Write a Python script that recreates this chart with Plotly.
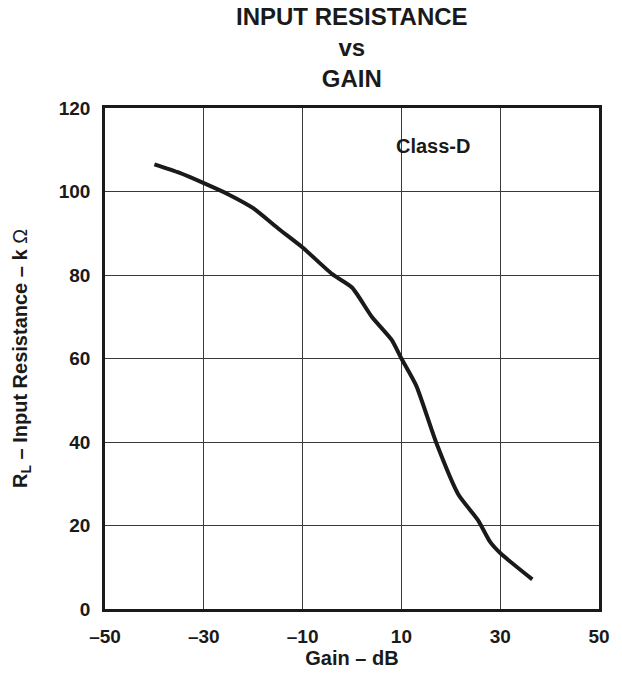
import plotly.graph_objects as go

gain_db = [-40, -35, -30, -25, -20, -15, -10, -4, 0, 4, 8, 10, 13, 17, 21.5, 25.5, 28, 30, 36.5]
input_res_k = [106.5, 104.5, 102, 99.3, 96, 91.2, 86.6, 80.2, 77, 70, 64.5, 60, 53.5, 40, 27.5, 21.3, 16, 13.4, 7.1]

x_ticks = [-50, -30, -10, 10, 30, 50]
x_ticktext = ["–50", "–30", "–10", "10", "30", "50"]
y_ticks = [0, 20, 40, 60, 80, 100, 120]

FONT = "Arial, Liberation Sans, sans-serif"
INK = "#1a1a1a"

fig = go.Figure()
fig.add_trace(go.Scatter(
    x=gain_db, y=input_res_k, mode="lines",
    line=dict(color=INK, width=4, shape="spline", smoothing=0.6),
    showlegend=False, hoverinfo="skip",
))

fig.add_annotation(x=16.3, y=111, text="<b>Class-D</b>", showarrow=False,
                   font=dict(family=FONT, size=20, color=INK),
                   xanchor="center", yanchor="middle")

# title (centered over the plot area)
fig.add_annotation(x=0.5, xref="paper", y=1, yref="paper", yshift=107,
                   text="<b>INPUT RESISTANCE<br>vs<br>GAIN</b>", showarrow=False,
                   font=dict(family=FONT, size=24, color=INK),
                   xanchor="center", yanchor="top", align="center")

fig.update_layout(
    width=622, height=677,
    margin=dict(l=105, r=12, t=108, b=62),
    paper_bgcolor="white", plot_bgcolor="white",
    font=dict(family=FONT, color=INK),
)
fig.update_xaxes(
    range=[-50, 50], tickvals=x_ticks, ticktext=[f"<b>{t}</b>" for t in x_ticktext],
    tickfont=dict(family=FONT, size=19, color=INK),
    showgrid=True, gridcolor="#3a3a3a", gridwidth=1.2,
    showline=True, linecolor=INK, linewidth=2.5, mirror=True,
    zeroline=False, ticks="", ticklabelstandoff=8,
    title=dict(text="<b>Gain – dB</b>", font=dict(family=FONT, size=20, color=INK), standoff=4),
)
fig.update_yaxes(
    range=[0, 120], tickvals=y_ticks, ticktext=[f"<b>{t}</b>" for t in y_ticks],
    tickfont=dict(family=FONT, size=19, color=INK),
    showgrid=True, gridcolor="#3a3a3a", gridwidth=1.2,
    showline=True, linecolor=INK, linewidth=2.5, mirror=True,
    zeroline=False, ticks="", ticklabelstandoff=8,
    title=dict(text="<b>R<sub>L</sub> – Input Resistance – k </b>Ω",
               font=dict(family=FONT, size=20, color=INK), standoff=26),
)

fig.write_html("out.html", config={"displayModeBar": False},
               post_script="document.body.style.margin='0';")
